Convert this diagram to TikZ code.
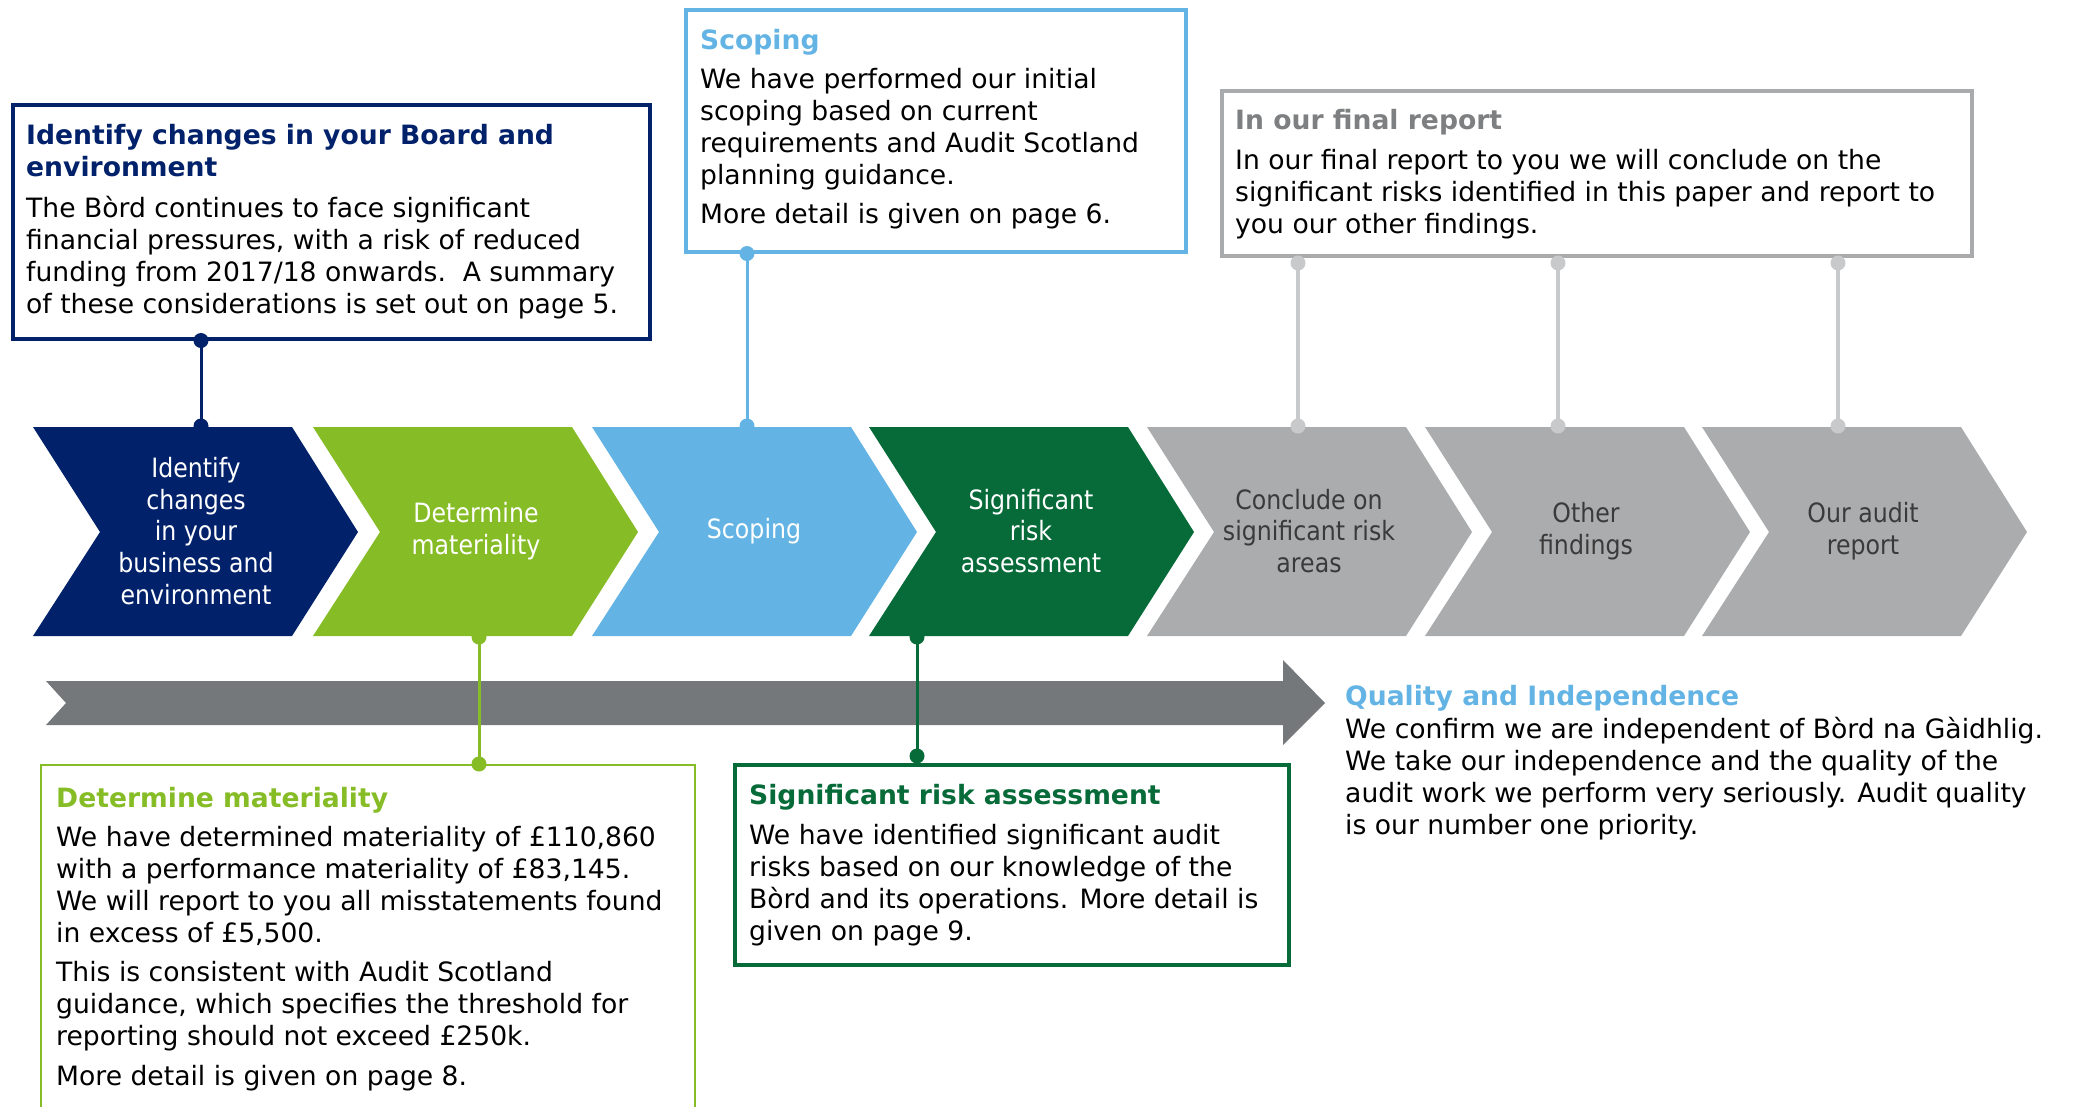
\documentclass[tikz,border=0pt]{standalone}
\usepackage{fontspec}
\usetikzlibrary{calc}
\setmainfont{DejaVu Sans}
\newfontfamily\condfont[FakeStretch=0.89]{DejaVu Sans}
\definecolor{navy}{HTML}{01216A}
\definecolor{lgreen}{HTML}{86BC25}
\definecolor{lblue}{HTML}{63B4E4}
\definecolor{dgreen}{HTML}{066B38}
\definecolor{chgray}{HTML}{ABACAE}
\definecolor{arrgray}{HTML}{75787B}
\definecolor{boxgray}{HTML}{A9AAAC}
\definecolor{titlegray}{HTML}{7D7F81}
\definecolor{linegray}{HTML}{C8C9CB}
\definecolor{chtext}{HTML}{3A3A3A}
\newcommand\mychev[2]{%
  \fill[#2] (#1,427) -- ++(259,0) -- ++(66,105) -- ++(-66,104) -- ++(-259,0) -- ++(67,-104) -- cycle;}
\tikzset{
  infobox/.style={rectangle, draw, line width=3.5, inner sep=0, anchor=north west, fill=none},
  bodytxt/.style={anchor=base west, align=left, inner sep=0, text=black, font=\fontsize{26.6}{32}\selectfont},
  headtxt/.style={anchor=base west, align=left, inner sep=0, font=\fontsize{26.6}{32}\selectfont\bfseries},
  chtxt/.style={align=center, inner sep=0, font=\condfont\fontsize{26.6}{31.7}\selectfont},
  conn/.style={line width=3},
  gconn/.style={line width=3.2, linegray},
}
\begin{document}
\begin{tikzpicture}[x=1pt,y=-1pt]
\useasboundingbox (0,0) rectangle (2074,1106);
% chevrons
\mychev{33}{navy}
\mychev{313}{lgreen}
\mychev{592}{lblue}
\mychev{869}{dgreen}
\mychev{1147}{chgray}
\mychev{1425}{chgray}
\mychev{1702}{chgray}
\node[chtxt, text=white] (t1) at (196,531) {Identify\\changes\\in your\\business and\\environment};
\node[chtxt, text=white] (t2) at (476,531) {Determine\\materiality};
\node[chtxt, text=white] (t3) at (754,531) {Scoping};
\node[chtxt, text=white] (t4) at (1031,531) {Significant\\risk\\assessment};
\node[chtxt, text=chtext] (t5) at (1309,531) {Conclude on\\significant risk\\areas};
\node[chtxt, text=chtext] (t6) at (1586,531) {Other\\findings};
\node[chtxt, text=chtext] (t7) at (1863,531) {Our audit\\report};
% big arrow
\fill[arrgray] (46,681) -- (1283,681) -- (1283,660) -- (1325,703) -- (1283,745) -- (1283,725) -- (46,725) -- (66,703) -- cycle;
% boxes
\node[infobox, draw=navy, minimum width=637, minimum height=234] (b1) at (11,103) {};
\node[infobox, draw=lblue, minimum width=500, minimum height=242] (b2) at (684,8) {};
\node[infobox, draw=boxgray, minimum width=750, minimum height=165] (b3) at (1220,89) {};
\node[infobox, draw=lgreen, line width=2, minimum width=654, minimum height=380] (b4) at (40,764) {};
\node[infobox, draw=dgreen, minimum width=554, minimum height=200] (b5) at (733,763) {};
% box texts (anchored at the baseline of the last line)
\node[headtxt, text=navy] (h1) at (26,176) {Identify changes in your Board and\\environment};
\node[bodytxt] (p1) at (26,313) {The Bòrd continues to face significant\\financial pressures, with a risk of reduced\\funding from 2017/18 onwards.\ \ A summary\\of these considerations is set out on page 5.};
\node[headtxt, text=lblue] (h2) at (700,49) {Scoping};
\node[bodytxt] (p2) at (700,223) {We have performed our initial\\scoping based on current\\requirements and Audit Scotland\\planning guidance.\\[7pt]More detail is given on page 6.};
\node[headtxt, text=titlegray] (h3) at (1235,129) {In our final report};
\node[bodytxt] (p3) at (1235,233) {In our final report to you we will conclude on the\\significant risks identified in this paper and report to\\you our other findings.};
\node[headtxt, text=lgreen] (h4) at (56,807) {Determine materiality};
\node[bodytxt] (p4) at (56,1085) {We have determined materiality of £110,860\\with a performance materiality of £83,145.\\We will report to you all misstatements found\\in excess of £5,500.\\[7pt]This is consistent with Audit Scotland\\guidance, which specifies the threshold for\\reporting should not exceed £250k.\\[8pt]More detail is given on page 8.};
\node[headtxt, text=dgreen] (h5) at (749,804) {Significant risk assessment};
\node[bodytxt] (p5) at (749,940) {We have identified significant audit\\risks based on our knowledge of the\\Bòrd and its operations. More detail is\\given on page 9.};
\node[headtxt, text=lblue] (h6) at (1345,705) {Quality and Independence};
\node[bodytxt] (p6) at (1345,834) {We confirm we are independent of Bòrd na Gàidhlig.\\We take our independence and the quality of the\\audit work we perform very seriously. Audit quality\\is our number one priority.};
% connector end points on chevrons
\coordinate (k1) at (201,426);
\coordinate (k2) at (479,637);
\coordinate (k3) at (747,426);
\coordinate (k4) at (917,637);
\coordinate (k5) at (1298,426);
\coordinate (k6) at (1558,426);
\coordinate (k7) at (1838,426);
\coordinate (g5) at (1298,263);
\coordinate (g6) at (1558,263);
\coordinate (g7) at (1838,263);
% connectors
\draw[conn, navy] (b1.south -| k1) -- (k1);
\fill[navy] (b1.south -| k1) circle (7.5) (k1) circle (7.5);
\draw[conn, lblue] (b2.south -| k3) -- (k3);
\fill[lblue] (b2.south -| k3) circle (7.5) (k3) circle (7.5);
\draw[conn, lgreen] (k2) -- (b4.north -| k2);
\fill[lgreen] (k2) circle (7.5) (b4.north -| k2) circle (7.5);
\draw[conn, dgreen] (k4) -- (b5.north -| k4);
\fill[dgreen] (k4) circle (7.5) ($(b5.north -| k4)+(0,-7)$) circle (7.5);
\draw[gconn] (g5) -- (k5);
\draw[gconn] (g6) -- (k6);
\draw[gconn] (g7) -- (k7);
\fill[linegray] (g5) circle (7.5) (k5) circle (7.5) (g6) circle (7.5) (k6) circle (7.5) (g7) circle (7.5) (k7) circle (7.5);
\end{tikzpicture}
\end{document}
